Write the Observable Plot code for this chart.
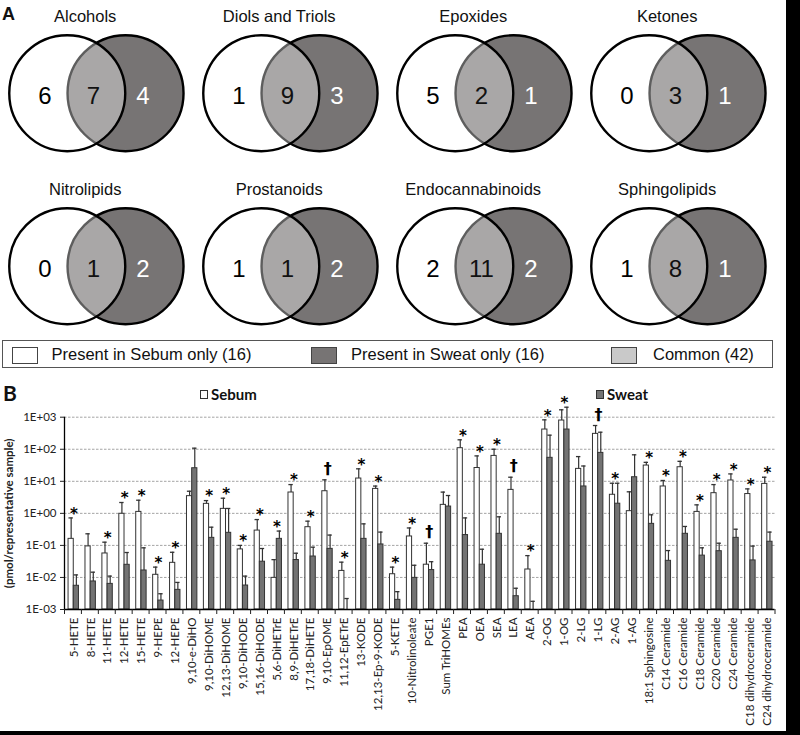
<!DOCTYPE html>
<html>
<head>
<meta charset="utf-8">
<script src="https://cdn.jsdelivr.net/npm/d3@7"></script>
<script src="https://cdn.jsdelivr.net/npm/@observablehq/plot@0.6"></script>
<style>
  html, body { margin: 0; padding: 0; background: #000; }
  #page { position: relative; width: 786px; height: 731px; background: #fff; overflow: hidden;
          font-family: "Liberation Sans", Arial, sans-serif; color: #111; }
  #panelA { position: absolute; left: 0; top: 0; }
  #panelB { position: absolute; left: 0; top: 380px; }
  .letter { position: absolute; font-weight: bold; font-family: "Liberation Sans", Arial, sans-serif; }
  #legendA { position: absolute; left: 2px; top: 340px; width: 771px; height: 28px; box-sizing: border-box;
             border: 1.5px solid #555; }
  .lgsw { position: absolute; top: 6px; width: 26px; height: 17px; box-sizing: border-box; border: 1px solid #444; }
  .lgtx { position: absolute; top: 3px; font-size: 16.5px; line-height: 20px; white-space: nowrap; }
  .lgB { position: absolute; top: 385px; font-family: Lato, sans-serif; font-weight: bold; font-size: 15px; line-height: 18px; }
  .lgBsw { position: absolute; top: 390px; width: 8px; height: 9px; box-sizing: border-box; border: 1px solid #333; }
  svg text { -webkit-font-smoothing: antialiased; }
</style>
</head>
<body>
<div id="page">
  <div id="panelA"></div>
  <div class="letter" style="left:2px;top:4px;font-size:18px;">A</div>
  <div id="legendA"></div>
  <div id="panelB"></div>
  <div class="letter" style="left:3px;top:380px;font-size:21px;font-family:Lato,sans-serif;">B</div>
  <div id="legendB"></div>
</div>
<script>
// ---------- Panel A data ----------
const vennGroups = ["Alcohols", "Diols and Triols", "Epoxides", "Ketones",
                    "Nitrolipids", "Prostanoids", "Endocannabinoids", "Sphingolipids"];
const sebumOnlyCounts = [6, 1, 5, 0, 0, 1, 2, 1];
const commonCounts    = [7, 9, 2, 3, 1, 1, 11, 8];
const sweatOnlyCounts = [4, 3, 1, 1, 2, 2, 2, 1];
const legendALabels = ["Present in Sebum only (16)", "Present in Sweat only (16)", "Common (42)"];

// ---------- Panel B data ----------
const lipids = ["5-HETE", "8-HETE", "11-HETE", "12-HETE", "15-HETE", "9-HEPE", "12-HEPE",
  "9,10-e-DiHO", "9,10-DiHOME", "12,13-DiHOME", "9,10-DiHODE", "15,16-DiHODE", "5,6-DiHETrE",
  "8,9-DiHETrE", "17,18-DiHETE", "9,10-EpOME", "11,12-EpETrE", "13-KODE", "12,13-Ep-9-KODE",
  "5-KETE", "10-Nitrolinoleate", "PGE1", "Sum TriHOMEs", "PEA", "OEA", "SEA", "LEA", "AEA",
  "2-OG", "1-OG", "2-LG", "1-LG", "2-AG", "1-AG", "18:1 Sphingosine", "C14 Ceramide",
  "C16 Ceramide", "C18 Ceramide", "C20 Ceramide", "C24 Ceramide", "C18 dihydroceramide",
  "C24 dihydroceramide"];
const sebumMean = [0.16, 0.093, 0.056, 0.97, 1.11, 0.0121, 0.0286,
  3.44, 1.98, 1.38, 0.075, 0.29, 0.0097,
  4.47, 0.37, 4.9, 0.016, 12.2, 5.8,
  0.0126, 0.19, 0.025, 1.84, 108, 26, 62, 5.4, 0.0177,
  412, 787, 24.4, 302, 3.8, 1.17, 31, 6.9,
  27.5, 1.11, 4.26, 10.6, 4.0, 8.3];
const sebumErrTop = [0.72, 0.23, 0.126, 2.18, 2.57, 0.021, 0.061,
  4.9, 2.5, 2.97, 0.1, 0.64, 0.036,
  7.9, 0.57, 11.1, 0.030, 24.5, 7.1,
  0.021, 0.35, 0.117, 4.6, 197, 62, 100, 13.4, 0.048,
  826, 1700, 59, 550, 8.7, 4.7, 39, 10.6,
  42, 1.84, 7.9, 17, 5.8, 13.4];
const sweatMean = [0.0055, 0.0075, 0.0063, 0.0248, 0.0165, 0.0019, 0.0041,
  25.6, 0.172, 0.247, 0.0056, 0.031, 0.16,
  0.035, 0.045, 0.078, 0.001, 0.16, 0.107,
  0.002, 0.0097, 0.017, 1.63, 0.21, 0.025, 0.23, 0.0026, 0.001,
  54, 412, 6.9, 77, 2.0, 13.4, 0.47, 0.033,
  0.23, 0.048, 0.066, 0.172, 0.034, 0.13];
const sweatErrTop = [0.012, 0.0146, 0.011, 0.060, 0.084, 0.0031, 0.007,
  108, 0.37, 1.42, 0.011, 0.08, 0.28,
  0.057, 0.088, 0.21, 0.0022, 0.47, 0.26,
  0.0036, 0.024, 0.031, 3.6, 0.72, 0.076, 0.78, 0.0046, 0.0018,
  275, 2050, 30, 340, 8.7, 67, 0.9, 0.069,
  0.39, 0.084, 0.117, 0.32, 0.095, 0.26];
const significance = ["*", "", "*", "*", "*", "*", "*",
  "", "*", "*", "*", "*", "*",
  "*", "*", "†", "*", "*", "*",
  "*", "*", "†", "", "*", "*", "*", "†", "*",
  "*", "*", "", "†", "*", "", "*", "*",
  "*", "*", "*", "*", "*", "*"];
const yTicks = [0.001, 0.01, 0.1, 1, 10, 100, 1000];
const yTickLabels = ["1E-03", "1E-02", "1E-01", "1E+00", "1E+01", "1E+02", "1E+03"];
const yTitle = "(pmol/representative sample)";
const seriesNames = ["Sebum", "Sweat"];

// ---------- Panel A: Venn diagrams ----------
const venn = vennGroups.map((name, i) => ({
  name, col: i % 4, row: Math.floor(i / 4),
  a: sebumOnlyCounts[i], ab: commonCounts[i], b: sweatOnlyCounts[i]
}));
const R = 58;
const cellW = 194.75, cellH = 173.5;
const cxL = 63, cxR = 121.5, cy = 92;
const vennPlot = Plot.plot({
  width: 786, height: 347,
  marginLeft: 2, marginRight: 5, marginTop: 0, marginBottom: 0,
  fx: {domain: [0, 1, 2, 3], padding: 0, axis: null},
  fy: {domain: [0, 1], padding: 0, axis: null},
  x: {domain: [0, cellW], axis: null},
  y: {domain: [cellH, 0], axis: null},
  style: {fontFamily: "'Liberation Sans', Arial, sans-serif", background: "transparent"},
  marks: [
    Plot.dot(venn, {fx: "col", fy: "row", x: cxR, y: cy, r: R, fill: "#777474", stroke: "#000", strokeWidth: 2.4}),
    Plot.dot(venn, {fx: "col", fy: "row", x: cxL, y: cy, r: R, fill: "#fff", fillOpacity: 0.37, stroke: "#000", strokeWidth: 2.4}),
    Plot.text(venn, {fx: "col", fy: "row", x: 81, y: 15, text: "name", fontSize: 16.5, fill: "#111"}),
    Plot.text(venn, {fx: "col", fy: "row", x: cxL - 22.5, y: 95, text: d => String(d.a), fontSize: 24, fill: "#000"}),
    Plot.text(venn, {fx: "col", fy: "row", x: (cxL + cxR) / 2 - 3, y: 95, text: d => String(d.ab), fontSize: 24, fill: "#111"}),
    Plot.text(venn, {fx: "col", fy: "row", x: cxR + 17.5, y: 95, text: d => String(d.b), fontSize: 24, fill: "#fff"})
  ]
});
document.getElementById("panelA").appendChild(vennPlot);

// legend A
const legA = document.getElementById("legendA");
const lgFills = ["#fff", "#777474", "#c9c9c9"];
const lgSwX = [9, 308, 608];
const lgTxX = [48.5, 348, 650];
legendALabels.forEach((t, i) => {
  const s = document.createElement("div");
  s.className = "lgsw"; s.style.left = lgSwX[i] + "px"; s.style.background = lgFills[i];
  legA.appendChild(s);
  const tx = document.createElement("div");
  tx.className = "lgtx"; tx.style.left = lgTxX[i] + "px"; tx.textContent = t;
  legA.appendChild(tx);
});

// ---------- Panel B: bar chart ----------
const rows = lipids.map((name, i) => ({
  name, sebum: sebumMean[i], sebumErr: sebumErrTop[i],
  sweat: sweatMean[i], sweatErr: sweatErrTop[i], sig: significance[i]
}));
const x0 = 64, x1 = 774.5;
const bw = (x1 - x0) / lipids.length;
const barW = 5.2, shift = 0.8, capHalf = 2.2;
const sebL = bw / 2 - barW + shift, sebR = bw / 2 - shift;          // insets for sebum bar
const swL = bw / 2 + shift, swR = bw / 2 - barW - shift;            // insets for sweat bar
const sebC = bw / 2 - barW / 2 + shift, swC = bw / 2 + barW / 2 + shift; // centers from band start
const fmtY = d => yTickLabels[yTicks.indexOf(d)];

const barPlot = Plot.plot({
  width: 786, height: 351,
  marginLeft: x0, marginRight: 786 - x1, marginTop: 36.7, marginBottom: 122,
  x: {type: "band", domain: lipids, padding: 0, round: false, axis: null},
  y: {type: "log", domain: [0.001, 1000], axis: null},
  style: {fontFamily: "Lato, sans-serif", fontSize: "11px", color: "#222", background: "transparent", overflow: "visible"},
  marks: [
    Plot.ruleY(yTicks.slice(1), {stroke: "#9a9a9a", strokeWidth: 0.9, strokeDasharray: "2.5,1.5"}),
    Plot.barY(rows, {x: "name", y1: 0.001, y2: "sebum", insetLeft: sebL, insetRight: sebR,
                     fill: "#fff", stroke: "#333", strokeWidth: 1}),
    Plot.barY(rows, {x: "name", y1: 0.001, y2: "sweat", insetLeft: swL, insetRight: swR,
                     fill: "#737373", stroke: "#333", strokeWidth: 1}),
    Plot.ruleX(rows, {x: "name", y1: "sebum", y2: "sebumErr", dx: sebC - bw / 2, stroke: "#333", strokeWidth: 1.2}),
    Plot.ruleX(rows, {x: "name", y1: "sweat", y2: "sweatErr", dx: swC - bw / 2, stroke: "#333", strokeWidth: 1.2}),
    Plot.tickY(rows, {x: "name", y: "sebumErr", insetLeft: sebC - capHalf, insetRight: bw - sebC - capHalf, stroke: "#333", strokeWidth: 1.3}),
    Plot.tickY(rows, {x: "name", y: "sweatErr", insetLeft: swC - capHalf, insetRight: bw - swC - capHalf, stroke: "#333", strokeWidth: 1.3}),
    Plot.text(rows.filter(d => d.sig === "*"), {x: "name", y: d => Math.max(d.sebumErr, d.sweatErr), text: "sig",
              dx: 1, dy: -4, fontSize: 15, fontWeight: "bold", fontFamily: "'DejaVu Sans', sans-serif", fill: "#000"}),
    Plot.text(rows.filter(d => d.sig === "†"), {x: "name", y: d => Math.max(d.sebumErr, d.sweatErr), text: "sig",
              dx: 1, dy: -11, fontSize: 16, fontWeight: "bold", fontFamily: "'DejaVu Sans', sans-serif", fill: "#000"}),
    // axes
    Plot.ruleY([0.001], {stroke: "#000", strokeWidth: 1.3}),
    Plot.ruleX([lipids[0]], {x: d => d, y1: 0.001, y2: 1000, dx: -bw / 2, stroke: "#000", strokeWidth: 1.3}),
    Plot.axisY({ticks: yTicks, tickFormat: fmtY, tickSize: 4, tickPadding: 4, label: null,
                fontSize: 11.5, fill: "#222"}),
    Plot.axisX({tickSize: 5, tickFormat: () => "", dx: -bw / 2, label: null}),
    Plot.axisX({ticks: [lipids[lipids.length - 1]], tickSize: 5, tickFormat: () => "", dx: bw / 2, label: null}),
    Plot.axisX({tickSize: 0, tickPadding: 8, tickRotate: -90, label: null, fontSize: 11.5, fill: "#222", dx: 1}),
    Plot.text([yTitle], {frameAnchor: "left", textAnchor: "middle", dx: -55, rotate: -90, fontWeight: "bold", fontSize: 11.5, fill: "#222"})
  ]
});
document.getElementById("panelB").appendChild(barPlot);

// legend B
const legB = document.getElementById("legendB");
const lgBSwX = [200, 596];
const lgBTxX = [211, 607];
const lgBFill = ["#fff", "#737373"];
seriesNames.forEach((t, i) => {
  const s = document.createElement("div");
  s.className = "lgBsw"; s.style.left = lgBSwX[i] + "px"; s.style.background = lgBFill[i];
  legB.appendChild(s);
  const tx = document.createElement("div");
  tx.className = "lgB"; tx.style.left = lgBTxX[i] + "px"; tx.textContent = t;
  legB.appendChild(tx);
});
</script>
</body>
</html>
